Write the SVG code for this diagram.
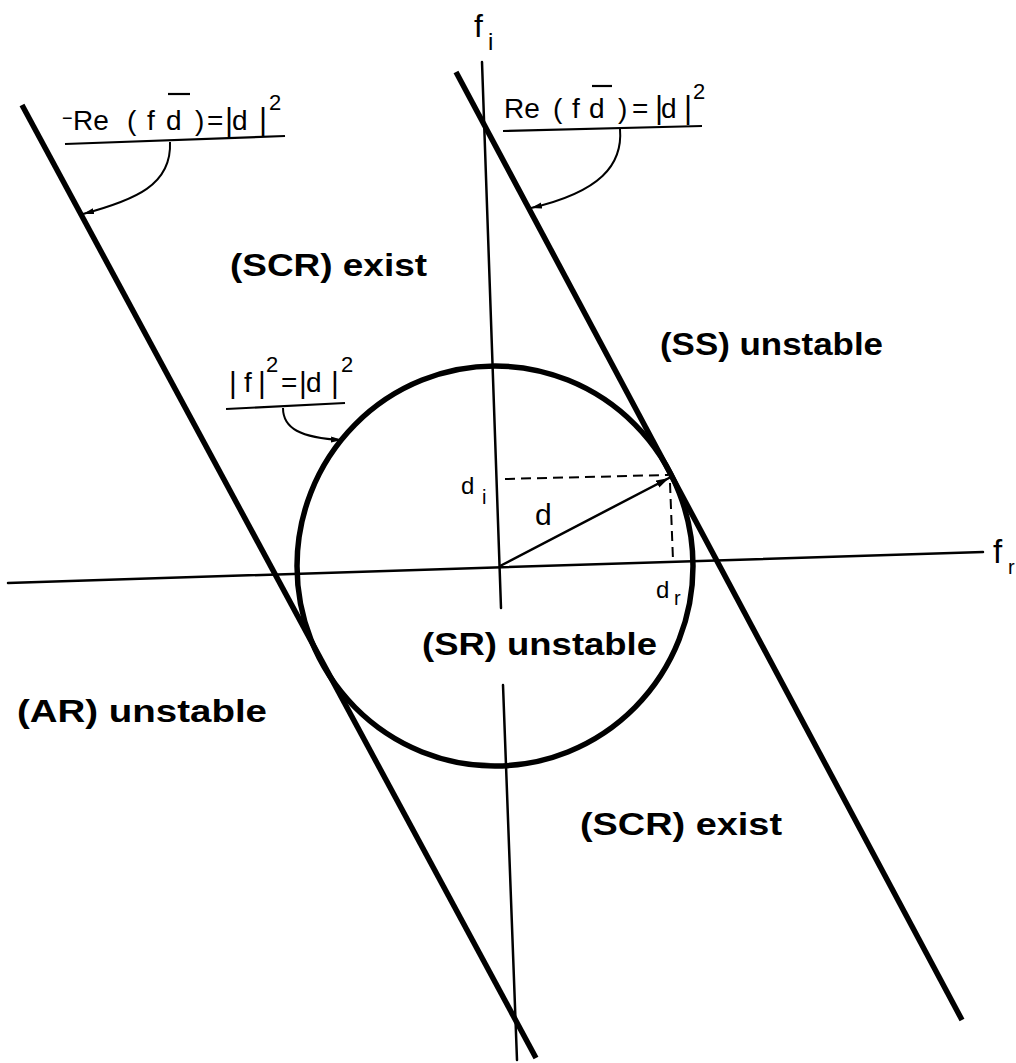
<svg xmlns="http://www.w3.org/2000/svg" width="1016" height="1063" viewBox="0 0 1016 1063">
<defs>
<style>
.ax{stroke:#000;stroke-width:2.5;fill:none;stroke-linecap:round}
.tl{stroke:#000;stroke-width:5.5;fill:none;stroke-linecap:butt}
.dash{stroke:#000;stroke-width:2;fill:none;stroke-dasharray:10 6}
.ld{stroke:#000;stroke-width:2;fill:none}
.ul{stroke:#000;stroke-width:2.2;fill:none}
.reg{font-family:"Liberation Sans",Arial,sans-serif;font-weight:bold;font-size:32px;fill:#000}
.eq{font-family:"Liberation Sans",Arial,sans-serif;font-size:28px;fill:#000}
.sym{font-family:"Liberation Sans",Arial,sans-serif;fill:#000}
</style>
<marker id="ah" markerUnits="userSpaceOnUse" markerWidth="14" markerHeight="10" refX="13" refY="4" orient="auto">
<path d="M0,0 L13,4 L0,8 z" fill="#000"/>
</marker>
<marker id="ahs" markerUnits="userSpaceOnUse" markerWidth="12" markerHeight="8" refX="11" refY="3" orient="auto">
<path d="M0,0 L11,3 L0,6 z" fill="#000"/>
</marker>
</defs>
<rect width="1016" height="1063" fill="#fff"/>

<g id="axes">
<line class="ax" x1="482" y1="62" x2="501" y2="608"/>
<line class="ax" x1="503" y1="685" x2="517" y2="1060"/>
<line class="ax" x1="8" y1="583" x2="983" y2="552"/>
<text class="sym" x="474" y="37" font-size="32">f</text>
<text class="sym" x="488" y="50" font-size="24">i</text>
<text class="sym" x="993" y="563" font-size="33">f</text>
<text class="sym" x="1008" y="574" font-size="20">r</text>
</g>

<g id="left-line">
<line class="tl" x1="22" y1="105" x2="536" y2="1058"/>
</g>
<g id="right-line">
<line class="tl" x1="456" y1="72" x2="962" y2="1020"/>
</g>
<g id="circle">
<ellipse cx="495" cy="566" rx="198" ry="200" fill="none" stroke="#000" stroke-width="5.5"/>
</g>

<g id="vector-d">
<line class="dash" x1="505" y1="479" x2="668" y2="475"/>
<line class="dash" x1="670" y1="483" x2="673" y2="560"/>
<line class="ax" x1="500" y1="566" x2="669" y2="478" marker-end="url(#ah)"/>
<text class="sym" x="535" y="525" font-size="30">d</text>
<text class="sym" x="461" y="494" font-size="24">d</text>
<text class="sym" x="482" y="504" font-size="20">i</text>
<text class="sym" x="656" y="598" font-size="24">d</text>
<text class="sym" x="674" y="605" font-size="20">r</text>
</g>

<g id="label-left">
<text class="eq"><tspan x="62" y="124" font-size="18">−</tspan><tspan x="73" y="130">Re</tspan><tspan x="127" y="130">(</tspan><tspan x="147" y="130">f</tspan><tspan x="166" y="130">d</tspan><tspan x="195" y="130">)</tspan><tspan x="207" y="130">=</tspan><tspan x="225" y="130" font-size="31">|</tspan><tspan x="232" y="130">d</tspan><tspan x="259" y="130" font-size="31">|</tspan><tspan x="269" y="110" font-size="22">2</tspan></text>
<line class="ul" x1="168" y1="94" x2="190" y2="94"/>
<line class="ul" x1="65" y1="144" x2="285" y2="136"/>
</g>

<g id="label-right">
<text class="eq"><tspan x="504" y="118">Re</tspan><tspan x="553" y="118">(</tspan><tspan x="572" y="118">f</tspan><tspan x="589" y="118">d</tspan><tspan x="618" y="118">)</tspan><tspan x="632" y="118">=</tspan><tspan x="655" y="118" font-size="31">|</tspan><tspan x="661" y="118">d</tspan><tspan x="684" y="118" font-size="31">|</tspan><tspan x="693" y="99" font-size="22">2</tspan></text>
<line class="ul" x1="592" y1="86" x2="612" y2="86"/>
<line class="ul" x1="503" y1="131" x2="702" y2="126"/>
</g>

<g id="label-circle">
<text class="eq"><tspan x="229" y="393" font-size="30">|</tspan><tspan x="244" y="392">f</tspan><tspan x="258" y="393" font-size="30">|</tspan><tspan x="266" y="372" font-size="22">2</tspan><tspan x="281" y="392">=</tspan><tspan x="299" y="393" font-size="30">|</tspan><tspan x="306" y="392">d</tspan><tspan x="331" y="393" font-size="30">|</tspan><tspan x="341" y="372" font-size="22">2</tspan></text>
<line class="ul" x1="226" y1="409" x2="345" y2="403"/>
</g>

<g id="connectors">
<path class="ld" d="M170,142 C172,185 135,200 83,214" marker-end="url(#ahs)"/>
<path class="ld" d="M620,129 C623,165 600,192 531,208" marker-end="url(#ahs)"/>
<path class="ld" d="M283,408 C283,428 300,438 342,440" marker-end="url(#ahs)"/>
</g>

<g id="regions">
<text class="reg" x="230" y="276" textLength="197" lengthAdjust="spacingAndGlyphs">(SCR) exist</text>
<text class="reg" x="660" y="355" textLength="223" lengthAdjust="spacingAndGlyphs">(SS) unstable</text>
<text class="reg" x="422" y="655" textLength="235" lengthAdjust="spacingAndGlyphs">(SR) unstable</text>
<text class="reg" x="17" y="722" textLength="250" lengthAdjust="spacingAndGlyphs">(AR) unstable</text>
<text class="reg" x="580" y="835" textLength="202" lengthAdjust="spacingAndGlyphs">(SCR) exist</text>
</g>
</svg>
